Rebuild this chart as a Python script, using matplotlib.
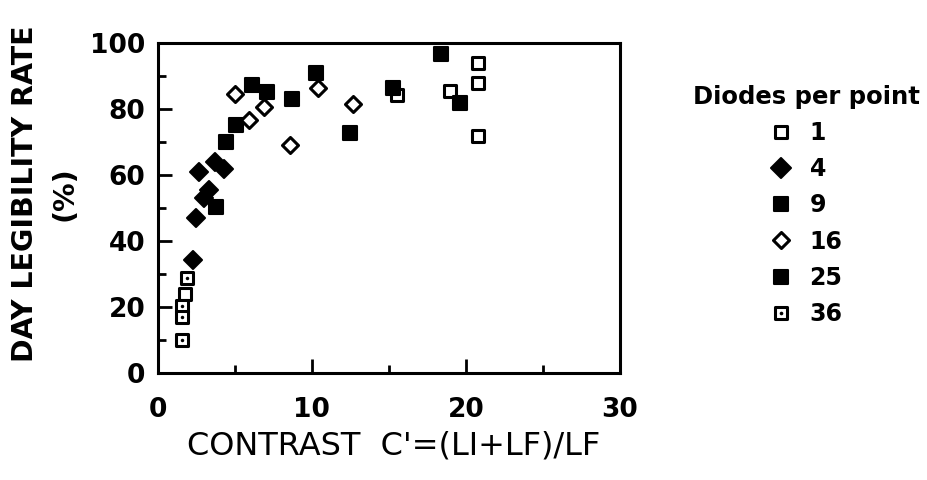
import matplotlib
matplotlib.use('Agg')
from matplotlib import pyplot as plt
from matplotlib.markers import MarkerStyle
from matplotlib.ticker import MultipleLocator

plt.rcParams['font.family'] = ['DejaVu Sans']

# diodes per point -> (contrast, legibility %)
d1_x = [1.8, 15.5, 19.0, 20.8, 20.8, 20.8]
d1_y = [24.0, 84.2, 85.5, 94.0, 88.0, 72.0]

d4_x = [2.3, 2.5, 2.7, 3.0, 3.3, 3.7, 4.3]
d4_y = [34.2, 47.0, 61.0, 53.0, 55.5, 64.0, 62.0]

d9_x = [3.8, 4.4, 5.1, 6.1, 7.1, 8.7, 10.3]
d9_y = [50.3, 70.0, 75.1, 87.3, 85.2, 83.0, 90.9]

d16_x = [5.0, 5.9, 6.9, 8.6, 10.4, 12.7]
d16_y = [84.5, 76.7, 80.6, 69.1, 86.4, 81.5]

d25_x = [12.5, 15.3, 18.4, 19.6]
d25_y = [72.7, 86.4, 96.7, 81.8]

d36_x = [1.9, 1.6, 1.6, 1.6]
d36_y = [28.7, 20.3, 17.0, 10.0]

labels = ['1', '4', '9', '16', '25', '36']


def rounded(m):
    return MarkerStyle(m, joinstyle='round')


fig = plt.figure(figsize=(9.28, 4.8), dpi=100)
ax = fig.add_axes([0.170, 0.223, 0.498, 0.687])

h1, = ax.plot(d1_x, d1_y, ls='none', marker=rounded('s'), ms=8.5, mew=2.2,
              mfc='white', mec='black')
h4, = ax.plot(d4_x, d4_y, ls='none', marker=rounded('D'), ms=9.5, mew=1.5,
              mfc='black', mec='black')
h9, = ax.plot(d9_x, d9_y, ls='none', marker=rounded('s'), ms=9.5, mew=1.5,
              mfc='black', mec='black')
h16, = ax.plot(d16_x, d16_y, ls='none', marker=rounded('D'), ms=8, mew=2.2,
               mfc='white', mec='black')
h25, = ax.plot(d25_x, d25_y, ls='none', marker=rounded('s'), ms=9.5, mew=1.5,
               mfc='black', mec='black')
h36a, = ax.plot(d36_x, d36_y, ls='none', marker=rounded('s'), ms=8.5, mew=2.2,
                mfc='white', mec='black')
h36b, = ax.plot(d36_x, d36_y, ls='none', marker='o', ms=2.5, mew=0,
                mfc='black')

ax.set_xlim(0, 30)
ax.set_ylim(0, 100)
ax.xaxis.set_major_locator(MultipleLocator(10))
ax.xaxis.set_minor_locator(MultipleLocator(5))
ax.yaxis.set_major_locator(MultipleLocator(20))
ax.yaxis.set_minor_locator(MultipleLocator(10))
ax.tick_params(which='both', direction='in', width=2)
ax.tick_params(which='major', length=10)
ax.tick_params(which='minor', length=6)
ax.tick_params(axis='x', which='major', pad=17)
ax.tick_params(axis='y', which='major', pad=9)
for s in ax.spines.values():
    s.set_linewidth(2.2)

for lab in ax.get_xticklabels() + ax.get_yticklabels():
    lab.set_fontsize(19)
    lab.set_fontweight('bold')

ax.set_ylabel('DAY LEGIBILITY RATE\n(%)', fontsize=20.5, fontweight='bold',
              linespacing=1.5)
ax.yaxis.set_label_coords(-0.172, 0.545)
ax.set_xlabel("CONTRAST  C'=(LI+LF)/LF", fontsize=23)
ax.xaxis.set_label_coords(0.51, -0.175)
ax.xaxis.label.set_va('top')

leg = ax.legend([h1, h4, h9, h16, h25, (h36a, h36b)], labels,
                title='Diodes per point', frameon=False,
                loc='upper center', bbox_to_anchor=(806 / 928, 0.868),
                bbox_transform=fig.transFigure,
                prop={'size': 17, 'weight': 'bold'},
                title_fontproperties={'size': 17.5, 'weight': 'bold'},
                labelspacing=0.52, handlelength=1.0, handletextpad=0.7,
                markerscale=1.05, alignment='center')

fig.savefig('out.png', dpi=100)
